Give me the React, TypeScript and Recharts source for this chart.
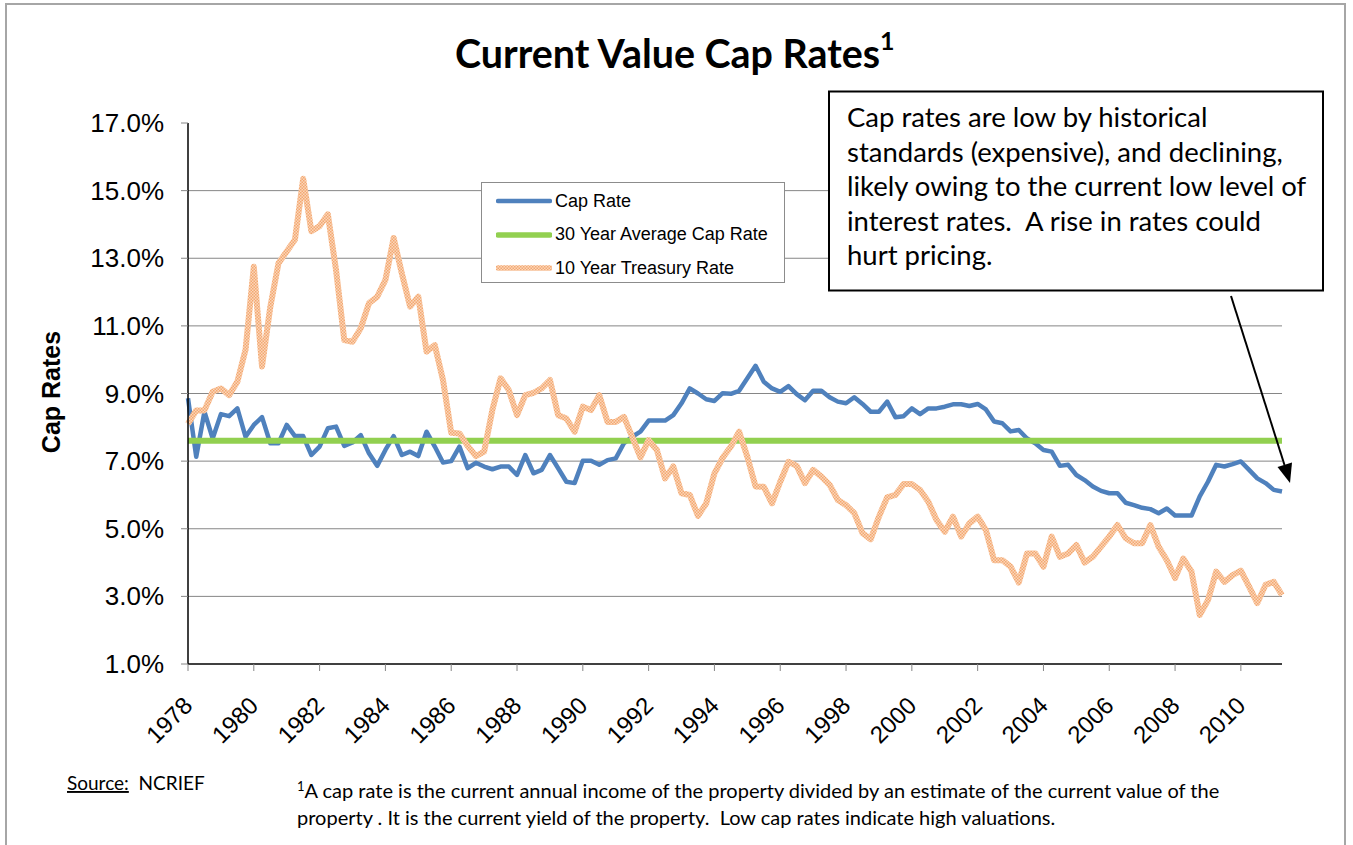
import React from "react";
import { LineChart, Line, XAxis, YAxis, CartesianGrid, Legend } from "recharts";

// quarterly observations, 1978 Q1 .. 2011 Q2
const tickYears = ["1978", "1980", "1982", "1984", "1986", "1988", "1990", "1992", "1994", "1996", "1998", "2000", "2002", "2004", "2006", "2008", "2010"];

const capRate = [
  8.86, 7.13, 8.46, 7.67, 8.39, 8.33, 8.56, 7.72, 8.07, 8.3,
  7.53, 7.53, 8.07, 7.74, 7.74, 7.18, 7.43, 7.97, 8.02, 7.45,
  7.55, 7.77, 7.23, 6.86, 7.33, 7.74, 7.18, 7.28, 7.15, 7.87,
  7.43, 6.96, 7.0, 7.43, 6.79, 6.95, 6.84, 6.76, 6.84, 6.84,
  6.59, 7.18, 6.64, 6.74, 7.18, 6.79, 6.39, 6.35, 7.01, 7.01,
  6.89, 7.03, 7.08, 7.53, 7.72, 7.87, 8.2, 8.2, 8.2, 8.36,
  8.71, 9.15, 9.0, 8.83, 8.78, 9.01, 8.99, 9.08, 9.45, 9.82,
  9.35, 9.15, 9.05, 9.22, 8.98, 8.8, 9.08, 9.08, 8.89, 8.76,
  8.71, 8.89, 8.69, 8.46, 8.46, 8.76, 8.3, 8.33, 8.56, 8.39,
  8.56, 8.56, 8.61, 8.68, 8.68, 8.63, 8.69, 8.53, 8.17, 8.12,
  7.88, 7.92, 7.67, 7.53, 7.33, 7.28, 6.86, 6.89, 6.59, 6.44,
  6.25, 6.12, 6.05, 6.05, 5.77, 5.7, 5.62, 5.58, 5.46, 5.6,
  5.39, 5.39, 5.39, 5.96, 6.39, 6.89, 6.84, 6.91, 6.99, 6.74,
  6.49, 6.35, 6.15, 6.1,
];

const treasuryRate = [
  8.1, 8.5, 8.5, 9.05, 9.15, 8.95, 9.35, 10.3, 12.75, 9.8,
  11.55, 12.85, 13.2, 13.55, 15.35, 13.8, 13.95, 14.3, 12.65, 10.58,
  10.53, 10.93, 11.67, 11.86, 12.36, 13.6, 12.55, 11.57, 11.86, 10.24,
  10.43, 9.4, 7.84, 7.82, 7.45, 7.15, 7.28, 8.51, 9.45, 9.1,
  8.36, 8.95, 9.02, 9.15, 9.4, 8.36, 8.26, 7.87, 8.61, 8.51,
  8.95, 8.16, 8.16, 8.31, 7.72, 7.11, 7.62, 7.33, 6.49, 6.84,
  6.05, 6.0, 5.38, 5.75, 6.64, 7.1, 7.43, 7.87, 7.13, 6.25,
  6.24, 5.75, 6.39, 6.98, 6.86, 6.35, 6.74, 6.54, 6.3, 5.85,
  5.7, 5.46, 4.87, 4.69, 5.36, 5.93, 6.0, 6.32, 6.32, 6.15,
  5.8, 5.26, 4.91, 5.36, 4.77, 5.16, 5.36, 4.96, 4.07, 4.07,
  3.88, 3.41, 4.27, 4.27, 3.88, 4.77, 4.17, 4.27, 4.52, 4.0,
  4.17, 4.47, 4.77, 5.11, 4.72, 4.57, 4.57, 5.11, 4.47, 4.07,
  3.54, 4.12, 3.73, 2.45, 2.89, 3.73, 3.43, 3.63, 3.76, 3.29,
  2.8, 3.34, 3.43, 3.04,
];

const averageCapRate = 7.6;

const seriesNames = ["Cap Rate", "30 Year Average Cap Rate", "10 Year Treasury Rate"];
const yTicks = [1, 3, 5, 7, 9, 11, 13, 15, 17];
const gridValues = [3, 5, 7, 9, 11, 13, 15];

const noteLines = [
  "Cap rates are low by historical",
  "standards (expensive), and declining,",
  "likely owing to the current low level of",
  "interest rates.  A rise in rates could",
  "hurt pricing.",
];

const footLines = [
  "A cap rate is the current annual income of the property divided by an estimate of the current value of the",
  "property . It is the current yield of the property.  Low cap rates indicate high valuations.",
];

const data = capRate.map((v, q) => ({
  q,
  cap: v,
  avg: averageCapRate,
  tsy: treasuryRate[q],
}));

const BLUE = "#4F81BD";
const GREEN = "#92D050";
const ARIAL = "'Liberation Sans', Arial, sans-serif";
const CALIBRI = "Lato, 'Open Sans', sans-serif";

const YearTick = (props: any) => {
  const { x, y, payload } = props;
  const tx = x + 6;
  const ty = y + 34;
  return (
    <text x={tx} y={ty} transform={`rotate(-45 ${tx} ${ty})`} textAnchor="end" fontFamily={ARIAL} fontSize={24} fill="#000">
      {tickYears[Math.round(payload.value / 8)]}
    </text>
  );
};

const PctTick = (props: any) => {
  const { x, y, payload } = props;
  return (
    <text x={x - 15} y={y + 9} textAnchor="end" fontFamily={ARIAL} fontSize={26} fill="#000">
      {payload.value.toFixed(1)}%
    </text>
  );
};

const LegendBox = () => (
  <div
    style={{
      width: 302,
      height: 99,
      border: "1px solid #8c8c8c",
      background: "#fff",
      fontFamily: ARIAL,
      fontSize: 18,
      color: "#000",
      position: "relative",
    }}
  >
    {seriesNames.map((name, k) => (
      <div key={name} style={{ position: "absolute", left: 14, top: 6 + k * 33.5, height: 24, display: "flex", alignItems: "center" }}>
        <svg width={56} height={10} style={{ marginRight: 3 }}>
          <line
            x1={2}
            x2={54}
            y1={5}
            y2={5}
            strokeLinecap="round"
            strokeWidth={k === 0 ? 4.5 : 5.5}
            stroke={k === 0 ? BLUE : k === 1 ? GREEN : "url(#tsyTexture)"}
          />
        </svg>
        <span style={{ whiteSpace: "nowrap" }}>{name}</span>
      </div>
    ))}
  </div>
);

export default function App() {
  return (
    <div style={{ position: "absolute", left: 0, top: 0, width: 1353, height: 845, background: "#fff", overflow: "hidden" }}>
      <div style={{ position: "absolute", left: 5, top: 3, width: 1341, height: 860, border: "2px solid #a6a6a6", boxSizing: "border-box" }} />

      <div style={{ position: "absolute", left: 0, top: 0 }}>
        <LineChart width={1353} height={845} data={data} margin={{ top: 123, right: 71, bottom: 121, left: 88 }}>
          <defs>
            <pattern id="tsyTexture" width={3} height={3} patternUnits="userSpaceOnUse">
              <rect width={3} height={3} fill="#FBD6BA" />
              <rect width={1.5} height={1.5} fill="#F3A871" />
              <rect x={1.5} y={1.5} width={1.5} height={1.5} fill="#F3A871" />
            </pattern>
          </defs>
          <CartesianGrid vertical={false} horizontalValues={gridValues} stroke="#868686" strokeWidth={1} />
          <XAxis
            dataKey="q"
            type="number"
            domain={[0, 133]}
            ticks={tickYears.map((_, k) => k * 8)}
            interval={0}
            height={60}
            tickSize={7}
            axisLine={{ stroke: "#000", strokeWidth: 1.5 }}
            tickLine={{ stroke: "#868686" }}
            tick={<YearTick />}
          />
          <YAxis
            type="number"
            domain={[1, 17]}
            ticks={yTicks}
            interval={0}
            width={100}
            tickSize={7}
            axisLine={{ stroke: "#000", strokeWidth: 1.5 }}
            tickLine={{ stroke: "#868686" }}
            tick={<PctTick />}
          />
          <Legend
            layout="vertical"
            align="center"
            verticalAlign="middle"
            content={<LegendBox />}
            wrapperStyle={{ left: 481, top: 182, width: 304, height: 101 }}
          />
          <Line dataKey="cap" name={seriesNames[0]} stroke={BLUE} strokeWidth={4.5} dot={false} isAnimationActive={false} strokeLinejoin="round" />
          <Line dataKey="avg" name={seriesNames[1]} stroke={GREEN} strokeWidth={6} dot={false} isAnimationActive={false} />
          <Line dataKey="tsy" name={seriesNames[2]} stroke="url(#tsyTexture)" strokeWidth={6} dot={false} isAnimationActive={false} strokeLinejoin="round" />
        </LineChart>
      </div>

      <svg width={1353} height={845} style={{ position: "absolute", left: 0, top: 0, pointerEvents: "none" }}>
        <text x={455} y={68} fontFamily={CALIBRI} fontWeight={700} fontSize={39.4} fill="#000">
          Current Value Cap Rates
          <tspan fontSize={25} dy={-18}>1</tspan>
        </text>

        <text x={60} y={392} transform="rotate(-90 60 392)" textAnchor="middle" fontFamily={ARIAL} fontWeight={700} fontSize={25} fill="#000">
          Cap Rates
        </text>

        <rect x={829} y={91.5} width={494} height={199} fill="#fff" stroke="#000" strokeWidth={2} />
        {noteLines.map((line, k) => (
          <text key={k} x={847} y={127 + k * 34.6} fontFamily={CALIBRI} fontSize={27.5} fill="#000" style={{ whiteSpace: "pre" }}>
            {line}
          </text>
        ))}

        <line x1={1231} y1={296} x2={1284.5} y2={465} stroke="#000" strokeWidth={2} />
        <polygon points="1290,483 1292,462.5 1277.5,467" fill="#000" />

        <text x={67} y={790} fontFamily={CALIBRI} fontSize={19} fill="#000">
          <tspan textDecoration="underline">Source:</tspan>
          <tspan style={{ whiteSpace: "pre" }}>{"  NCRIEF"}</tspan>
        </text>
        <text x={297} y={798} fontFamily={CALIBRI} fontSize={20} fill="#000">
          <tspan fontSize={13} dy={-7}>1</tspan>
          <tspan dy={7}>{footLines[0]}</tspan>
        </text>
        <text x={297} y={825} fontFamily={CALIBRI} fontSize={20} fill="#000" style={{ whiteSpace: "pre" }}>
          {footLines[1]}
        </text>
      </svg>
    </div>
  );
}
